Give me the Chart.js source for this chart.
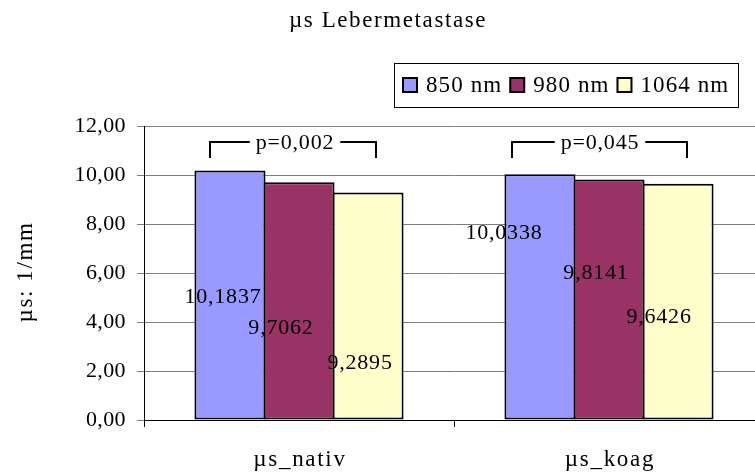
<!DOCTYPE html>
<html>
<head>
<meta charset="utf-8">
<script src="https://cdn.jsdelivr.net/npm/chart.js@4"></script>
<style>
  html, body { margin: 0; padding: 0; background: #fff; overflow: hidden; }
  #wrap { width: 765px; height: 474px; position: relative; }
</style>
</head>
<body>
<div id="wrap"><canvas id="chart"></canvas></div>
<script>
const categories = ['µs_nativ', 'µs_koag'];
const seriesNames = ['850 nm', '980 nm', '1064 nm'];
const values850 = [10.1837, 10.0338];
const values980 = [9.7062, 9.8141];
const values1064 = [9.2895, 9.6426];
const yTicks = [0, 2, 4, 6, 8, 10, 12];
const pLabels = ['p=0,002', 'p=0,045'];

const colors = ['#9999ff', '#993366', '#ffffcc'];
const FONT = '"Liberation Serif", "Times New Roman", serif';

// where the value labels sit in the picture (moved by hand in the original)
const labelShiftX = [[-7, -36], [-18, -13], [-8, -19]];
const labelLevel = [[5.02, 7.63], [3.76, 6.0], [2.33, 4.2]];
// bracket ends relative to the category centre, and its two heights
const bracketEnds = [[-89, 77], [-97, 78]];
const bracketTextShift = [-4, -9];
const bracketTop = 11.35;
const bracketLeg = 10.69;

const fmt = (v, d) => v.toFixed(d).replace('.', ',');

const overlay = {
  id: 'overlay',
  beforeDraw(chart) {
    chart.ctx.letterSpacing = '0.4px';
  },
  afterDraw(chart) {
    const ctx = chart.ctx;
    const x = chart.scales.x;
    const y = chart.scales.y;
    ctx.save();
    ctx.fillStyle = '#000';
    ctx.strokeStyle = '#000';

    // title
    ctx.font = `23px ${FONT}`;
    ctx.letterSpacing = '1.6px';
    ctx.textAlign = 'center';
    ctx.textBaseline = 'middle';
    ctx.fillText('µs Lebermetastase', 388, 21);

    // y title
    ctx.save();
    ctx.translate(26, 272);
    ctx.rotate(-Math.PI / 2);
    ctx.font = `23px ${FONT}`;
    ctx.letterSpacing = '1.6px';
    ctx.fillText('µs: 1/mm', 0, 0);
    ctx.restore();

    // category labels
    ctx.font = `23px ${FONT}`;
    ctx.letterSpacing = '1.7px';
    categories.forEach((c, i) => {
      ctx.fillText(c, x.getPixelForValue(i) + 1, 460);
    });

    // value labels
    ctx.font = `22px ${FONT}`;
    ctx.letterSpacing = '0.8px';
    chart.data.datasets.forEach((ds, di) => {
      const meta = chart.getDatasetMeta(di);
      meta.data.forEach((bar, i) => {
        ctx.fillText(fmt(ds.data[i], 4), bar.x + labelShiftX[di][i], y.getPixelForValue(labelLevel[di][i]));
      });
    });

    // significance brackets
    ctx.lineWidth = 2;
    const yt = y.getPixelForValue(bracketTop);
    const yl = y.getPixelForValue(bracketLeg);
    pLabels.forEach((p, i) => {
      const cx = x.getPixelForValue(i);
      const x1 = cx + bracketEnds[i][0];
      const x2 = cx + bracketEnds[i][1];
      const tx = cx + bracketTextShift[i];
      const half = ctx.measureText(p).width / 2 + 6;
      ctx.beginPath();
      ctx.moveTo(x1, yl);
      ctx.lineTo(x1, yt);
      ctx.lineTo(tx - half, yt);
      ctx.moveTo(tx + half, yt);
      ctx.lineTo(x2, yt);
      ctx.lineTo(x2, yl);
      ctx.stroke();
      ctx.fillText(p, tx, yt + 1);
    });

    // legend
    ctx.lineWidth = 1;
    ctx.strokeRect(394.5, 63.5, 344, 44);
    ctx.font = `23px ${FONT}`;
    ctx.letterSpacing = '1.1px';
    ctx.textAlign = 'left';
    let lx = 403;
    seriesNames.forEach((name, i) => {
      ctx.fillStyle = colors[i];
      ctx.fillRect(lx, 78, 14, 14);
      ctx.lineWidth = 2;
      ctx.strokeRect(lx, 78, 14, 14);
      ctx.fillStyle = '#000';
      ctx.fillText(name, lx + 23, 86);
      lx += 23 + ctx.measureText(name).width + 8;
    });
    ctx.restore();
  },
};

new Chart(document.getElementById('chart'), {
  type: 'bar',
  data: {
    labels: categories,
    datasets: [values850, values980, values1064].map((data, i) => ({
      label: seriesNames[i],
      data,
      backgroundColor: colors[i],
      borderColor: '#000',
      borderWidth: 2,
      borderSkipped: false,
      barPercentage: 1.03,
      categoryPercentage: 0.668,
    })),
  },
  options: {
    responsive: true,
    maintainAspectRatio: false,
    animation: false,
    events: [],
    layout: { padding: { top: 126, left: 0, right: 1, bottom: 0 } },
    plugins: {
      legend: { display: false },
      title: { display: false },
      tooltip: { enabled: false },
    },
    scales: {
      x: {
        offset: true,
        grid: {
          offset: true,
          drawOnChartArea: false,
          tickLength: 7,
          color: '#000',
        },
        border: { color: '#000', width: 1 },
        ticks: { display: false },
        afterFit(scale) { scale.height = 54; },
      },
      y: {
        min: 0,
        max: 12,
        afterBuildTicks(scale) { scale.ticks = yTicks.map((v) => ({ value: v })); },
        grid: { color: '#808080', tickLength: 7 },
        border: { color: '#000', width: 1 },
        ticks: {
          color: '#000',
          padding: 11,
          font: { family: FONT, size: 22 },
          callback: (v) => fmt(v, 2),
        },
        afterFit(scale) { scale.width = 144; },
      },
    },
  },
  plugins: [overlay],
});
</script>
</body>
</html>
